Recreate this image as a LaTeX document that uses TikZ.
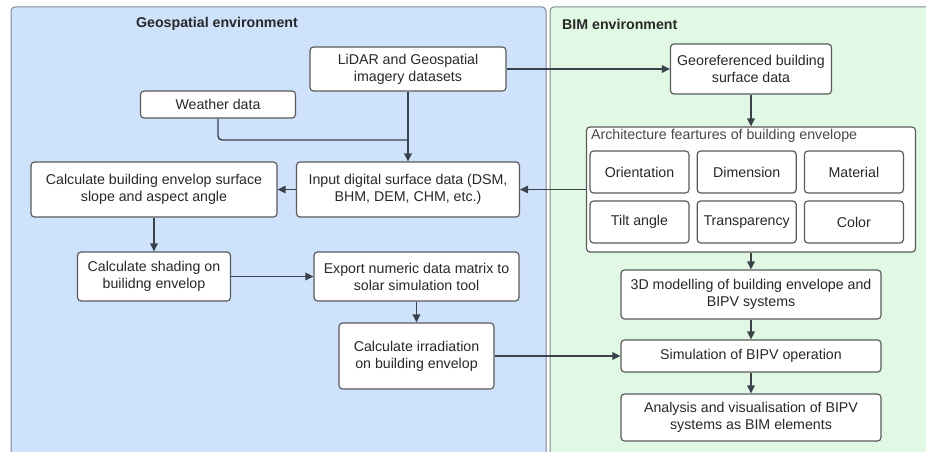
\documentclass[tikz,border=0pt]{standalone}
\usepackage{fontspec}
\setmainfont{Liberation Sans}
\usepackage{tikz}
\usetikzlibrary{positioning,arrows.meta}
\usepackage{xcolor}
\definecolor{geoblue}{RGB}{207,226,252}
\definecolor{bimgreen}{RGB}{225,249,228}
\definecolor{panelgray}{RGB}{128,136,148}
\definecolor{boxgray}{RGB}{90,90,90}
\definecolor{flowgray}{RGB}{60,66,76}
\definecolor{textgray}{RGB}{40,40,40}

\begin{document}
\begin{tikzpicture}[x=1pt,y=-1pt,>={Triangle[length=8pt,width=7.5pt]},
  box/.style={draw=boxgray,fill=white,rounded corners=3.5pt,line width=1.2pt,align=center,
    text=textgray,font=\fontsize{14.2}{17}\selectfont,inner sep=0pt},
  feature/.style={box,minimum width=99pt,minimum height=42pt},
  envtitle/.style={font=\bfseries\fontsize{14.2}{16}\selectfont,text=textgray,inner sep=0pt},
  flow/.style={->,draw=flowgray,line width=1.4pt}]
\useasboundingbox (0,0) rectangle (926,452);
\clip (0,0) rectangle (926,452);
% environments
\draw[panelgray,fill=geoblue,rounded corners=4pt,line width=1pt] (11,7) rectangle (546,470);
\draw[panelgray,fill=bimgreen,rounded corners=4pt,line width=1pt] (550,7) rectangle (950,470);
\node[envtitle] (geotitle) at (217,24) {Geospatial environment};
\node[envtitle,anchor=west] (bimtitle) at (562,24) {BIM environment};

% geospatial side
\node[box,minimum width=196pt,minimum height=44pt] (lidar) at (408,69) {LiDAR and Geospatial\\imagery datasets};
\node[box,minimum width=155pt,minimum height=27pt] (weather) at (218,104.5) {Weather data};
\node[box,minimum width=223pt,minimum height=55pt] (input) at (408,189.5) {Input digital surface data (DSM,\\BHM, DEM, CHM, etc.)};
\node[box,minimum width=246pt,minimum height=55pt] (slope) at (154,189.5) {Calculate building envelop surface\\slope and aspect angle};
\node[box,minimum width=153pt,minimum height=49pt] (shading) at (154,276.5) {Calculate shading on\\builidng envelop};
\node[box,minimum width=205pt,minimum height=49pt] (export) at (416.5,276.5) {Export numeric data matrix to\\solar simulation tool};
\node[box,minimum width=155pt,minimum height=66pt] (irrad) at (416.5,356) {Calculate irradiation\\on building envelop};

% BIM side
\node[box,minimum width=161pt,minimum height=50pt] (georef) at (751,69) {Georeferenced building\\surface data};
\node[box,minimum width=329pt,minimum height=125pt] (arch) at (751,189.5) {};
\node[anchor=north west,inner sep=0pt,text=textgray!85,font=\fontsize{14.2}{16}\selectfont] (archtitle) at ([shift={(5pt,-3pt)}]arch.north west) {Architecture feartures of building envelope};
\node[feature] (orient) at (639.5,172) {Orientation};
\node[feature,right=7pt of orient] (dimen) {Dimension};
\node[feature,right=7pt of dimen] (mater) {Material};
\node[feature] (tilt) at (639.5,222) {Tilt angle};
\node[feature,right=7pt of tilt] (transp) {Transparency};
\node[feature,right=7pt of transp] (color) {Color};
\node[box,minimum width=260pt,minimum height=49pt] (model) at (751,294.5) {3D modelling of building envelope and\\BIPV systems};
\node[box,minimum width=260pt,minimum height=32pt] (sim) at (751,356) {Simulation of BIPV operation};
\node[box,minimum width=260pt,minimum height=47pt] (analysis) at (751,417.5) {Analysis and visualisation of BIPV\\systems as BIM elements};

% connectors
\coordinate (merge) at (408,140);
\draw[flow] (lidar) -- (georef);
\draw[flow] (lidar) -- (input);
\draw[draw=flowgray,line width=1.4pt,rounded corners=4pt] (weather.south) |- (merge);
\draw[flow] (input) -- (slope);
\draw[flow] (arch) -- (input);
\draw[flow] (georef) -- (arch);
\draw[flow] (slope) -- (shading);
\draw[flow] (shading) -- (export);
\draw[flow] (export) -- (irrad);
\draw[flow] (irrad) -- (sim);
\draw[flow] (arch) -- (model);
\draw[flow] (model) -- (sim);
\draw[flow] (sim) -- (analysis);
\end{tikzpicture}
\end{document}
